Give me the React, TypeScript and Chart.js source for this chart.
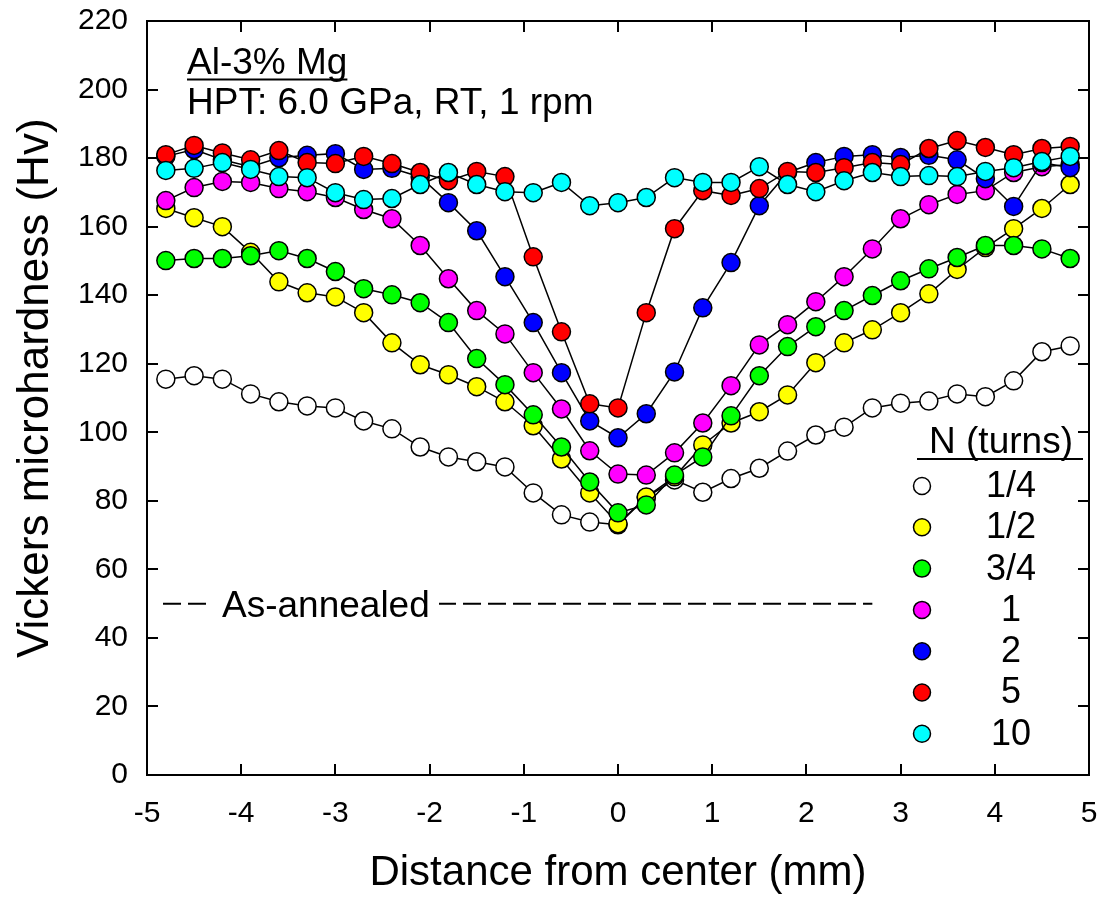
import React, { useEffect, useRef } from 'react';
import { Chart, registerables } from 'chart.js';

Chart.register(...registerables);

const FONT = '"Liberation Sans", Arial, Helvetica, sans-serif';

// Distance from center (mm)
const xPositions = [
  -4.8, -4.5, -4.2, -3.9, -3.6, -3.3, -3.0, -2.7, -2.4, -2.1, -1.8, -1.5, -1.2, -0.9, -0.6, -0.3,
  0,
  0.3, 0.6, 0.9, 1.2, 1.5, 1.8, 2.1, 2.4, 2.7, 3.0, 3.3, 3.6, 3.9, 4.2, 4.5, 4.8,
];

const turnLabels = ['1/4', '1/2', '3/4', '1', '2', '5', '10'];
const turnColors = ['#ffffff', '#ffff00', '#00ff00', '#ff00ff', '#0000ff', '#ff0000', '#00ffff'];

const hvQuarter = [
  115.5, 116.5, 115.5, 111.2, 108.9, 107.7, 107.1, 103.3, 101.0, 95.7, 92.8, 91.4, 89.9, 82.3, 75.9, 73.8,
  73.0,
  81.0, 86.1, 82.5, 86.5, 89.5, 94.5, 99.2, 101.5, 107.1, 108.5, 109.1, 111.2, 110.4, 115.0, 123.5, 125.2,
];
const hvHalf = [
  165.3, 162.6, 160.0, 152.5, 143.9, 140.7, 139.5, 134.9, 126.1, 119.7, 116.8, 113.3, 108.9, 101.9, 92.2, 82.3,
  73.3,
  81.1, 87.0, 96.3, 102.7, 106.0, 110.9, 120.3, 126.1, 129.9, 134.9, 140.4, 147.5, 153.9, 159.4, 165.3, 172.3,
];
const hvThreeQuarter = [
  150.1, 150.7, 150.7, 151.5, 153.0, 150.7, 146.9, 141.9, 140.1, 137.8, 132.0, 121.5, 113.9, 105.1, 95.7, 85.5,
  76.5,
  78.8, 87.5, 92.8, 104.8, 116.5, 125.0, 130.8, 135.5, 139.9, 144.2, 147.7, 151.0, 154.5, 154.5, 153.5, 150.7,
];
const hvOne = [
  167.6, 171.4, 173.2, 172.9, 171.1, 170.2, 168.5, 165.0, 162.3, 154.5, 144.8, 135.5, 128.7, 117.4, 106.8, 94.6,
  87.8,
  87.5, 94.0, 102.7, 113.6, 125.5, 131.4, 138.1, 145.4, 153.5, 162.3, 166.4, 169.4, 170.5, 175.8, 177.5, 178.1,
];
const hvTwo = [
  180.5, 182.5, 179.5, 177.5, 180.1, 180.8, 181.3, 176.7, 177.0, 174.5, 167.0, 158.8, 145.4, 132.0, 117.4, 103.3,
  98.4,
  105.4, 117.6, 136.3, 149.5, 166.1, 175.8, 178.7, 180.5, 181.0, 180.2, 180.8, 179.5, 174.0, 165.9, 178.7, 177.2,
];
const hvFive = [
  181.0, 183.7, 181.5, 179.5, 182.2, 178.7, 178.4, 180.5, 178.4, 175.8, 173.4, 176.1, 174.6, 151.2, 129.3, 108.3,
  107.1,
  134.9, 159.4, 170.5, 169.1, 171.1, 176.1, 175.8, 177.2, 178.7, 178.1, 182.8, 185.1, 183.1, 181.0, 182.8, 183.4,
];
const hvTen = [
  176.4, 177.0, 178.7, 176.7, 174.6, 174.3, 169.9, 167.9, 168.2, 172.3, 175.8, 172.3, 170.2, 169.9, 172.9, 166.1,
  167.0,
  168.5, 174.3, 172.9, 172.9, 177.5, 172.3, 170.2, 173.4, 175.8, 174.6, 174.9, 174.6, 176.1, 177.2, 179.0, 180.5,
];

const hvSeries = [hvQuarter, hvHalf, hvThreeQuarter, hvOne, hvTwo, hvFive, hvTen];

const annealedX = [-4.83, 2.7];
const annealedY = [50, 50];

const xTicks = [-5, -4, -3, -2, -1, 0, 1, 2, 3, 4, 5];
const yTicks = [0, 20, 40, 60, 80, 100, 120, 140, 160, 180, 200, 220];

const framePlugin = {
  id: 'frameTicks',
  afterDraw(chart: any) {
    const { ctx, chartArea } = chart;
    const { left, right, top, bottom } = chartArea;
    const xs = chart.scales.x;
    const ys = chart.scales.y;
    const TL = 11;
    ctx.save();
    ctx.strokeStyle = '#000';
    ctx.lineWidth = 2;
    ctx.beginPath();
    xTicks.forEach((v) => {
      const px = Math.round(xs.getPixelForValue(v));
      ctx.moveTo(px, bottom);
      ctx.lineTo(px, bottom - TL);
      ctx.moveTo(px, top);
      ctx.lineTo(px, top + TL);
    });
    yTicks.forEach((v) => {
      const py = Math.round(ys.getPixelForValue(v));
      ctx.moveTo(left, py);
      ctx.lineTo(left + TL, py);
      ctx.moveTo(right, py);
      ctx.lineTo(right - TL, py);
    });
    ctx.stroke();
    ctx.strokeRect(left, top, right - left, bottom - top);

    // Y axis title (custom-positioned)
    ctx.fillStyle = '#000';
    ctx.font = `44px ${FONT}`;
    ctx.translate(48, 658);
    ctx.rotate(-Math.PI / 2);
    ctx.textAlign = 'left';
    ctx.textBaseline = 'alphabetic';
    ctx.fillText('Vickers microhardness (Hv)', 0, 0);
    ctx.restore();
  },
};

const annotationPlugin = {
  id: 'annotations',
  afterDatasetsDraw(chart: any) {
    const { ctx } = chart;
    const ys = chart.scales.y;
    ctx.save();
    // As-annealed label over the dashed line
    const yPx = ys.getPixelForValue(annealedY[0]);
    ctx.fillStyle = '#fff';
    ctx.fillRect(211, yPx - 17, 228, 34);
    ctx.fillStyle = '#000';
    ctx.font = `37px ${FONT}`;
    ctx.textBaseline = 'alphabetic';
    ctx.textAlign = 'left';
    ctx.fillText('As-annealed', 222, yPx + 13);

    // Top-left annotation
    ctx.font = `37px ${FONT}`;
    const t1 = 'Al-3% Mg';
    ctx.fillText(t1, 187, 74);
    const w1 = ctx.measureText(t1).width;
    ctx.lineWidth = 2;
    ctx.strokeStyle = '#000';
    ctx.beginPath();
    ctx.moveTo(187, 79.5);
    ctx.lineTo(187 + w1, 79.5);
    ctx.stroke();
    ctx.fillText('HPT: 6.0 GPa, RT, 1 rpm', 187, 114);
    ctx.restore();
  },
  afterDraw(chart: any) {
    const { ctx } = chart;
    ctx.save();
    ctx.fillStyle = '#000';
    ctx.strokeStyle = '#000';
    ctx.font = `37px ${FONT}`;
    ctx.textAlign = 'center';
    ctx.textBaseline = 'alphabetic';
    ctx.fillText('N (turns)', 1001, 453);
    ctx.lineWidth = 2;
    ctx.beginPath();
    ctx.moveTo(917, 459);
    ctx.lineTo(1083, 459);
    ctx.stroke();
    const rowStart = 486;
    const rowGap = 41.3;
    chart.data.datasets.forEach((ds: any, i: number) => {
      if (i >= turnLabels.length) return;
      const cy = rowStart + i * rowGap;
      ctx.beginPath();
      ctx.arc(922, cy, 8.5, 0, Math.PI * 2);
      ctx.fillStyle = ds.pointBackgroundColor;
      ctx.fill();
      ctx.lineWidth = 1.5;
      ctx.stroke();
      ctx.fillStyle = '#000';
      ctx.font = `36px ${FONT}`;
      ctx.textBaseline = 'middle';
      ctx.fillText(ds.label, 1011, cy + 1);
    });
    ctx.restore();
  },
};

export default function App() {
  const canvasRef = useRef<HTMLCanvasElement | null>(null);

  useEffect(() => {
    if (!canvasRef.current) return;
    const datasets: any[] = hvSeries.map((vals, i) => ({
      label: turnLabels[i],
      data: xPositions.map((x, j) => ({ x, y: vals[j] })),
      showLine: true,
      borderColor: '#000',
      borderWidth: 1.5,
      pointRadius: 9,
      pointBorderWidth: 1.5,
      pointBorderColor: '#000',
      pointBackgroundColor: turnColors[i],
      backgroundColor: turnColors[i],
      order: hvSeries.length - i,
      tension: 0,
    }));
    datasets.push({
      label: 'As-annealed',
      data: annealedX.map((x, j) => ({ x, y: annealedY[j] })),
      showLine: true,
      borderColor: '#000',
      borderWidth: 2,
      borderDash: [18, 7],
      pointRadius: 0,
      order: 20,
    });

    const chart = new Chart(canvasRef.current, {
      type: 'line',
      data: { datasets },
      options: {
        responsive: false,
        animation: false,
        devicePixelRatio: 1,
        layout: { padding: { top: 21, right: 16, left: 0, bottom: 0 } },
        plugins: { legend: { display: false }, tooltip: { enabled: false } },
        scales: {
          x: {
            type: 'linear',
            min: -5,
            max: 5,
            afterBuildTicks: (s: any) => {
              s.ticks = xTicks.map((v) => ({ value: v }));
            },
            afterFit: (s: any) => {
              s.height = 128;
              s.paddingLeft = 0;
              s.paddingRight = 0;
            },
            grid: { display: false, drawTicks: false },
            border: { display: false },
            ticks: {
              color: '#000',
              font: { family: FONT, size: 30 },
              padding: 21,
              maxRotation: 0,
              autoSkip: false,
            },
            title: {
              display: true,
              text: 'Distance from center (mm)',
              color: '#000',
              font: { family: FONT, size: 42 },
              padding: { top: 0, bottom: 4 },
            },
          },
          y: {
            type: 'linear',
            min: 0,
            max: 220,
            afterBuildTicks: (s: any) => {
              s.ticks = yTicks.map((v) => ({ value: v }));
            },
            afterFit: (s: any) => {
              s.width = 147;
              s.paddingTop = 0;
              s.paddingBottom = 0;
            },
            grid: { display: false, drawTicks: false },
            border: { display: false },
            ticks: {
              color: '#000',
              font: { family: FONT, size: 30 },
              padding: 19,
              autoSkip: false,
            },
            title: { display: false },
          },
        },
      },
      plugins: [framePlugin, annotationPlugin],
    });
    return () => chart.destroy();
  }, []);

  return (
    <div style={{ position: 'fixed', left: 0, top: 0, width: 1105, height: 903, background: '#fff' }}>
      <canvas ref={canvasRef} width={1105} height={903} style={{ display: 'block' }} />
    </div>
  );
}
